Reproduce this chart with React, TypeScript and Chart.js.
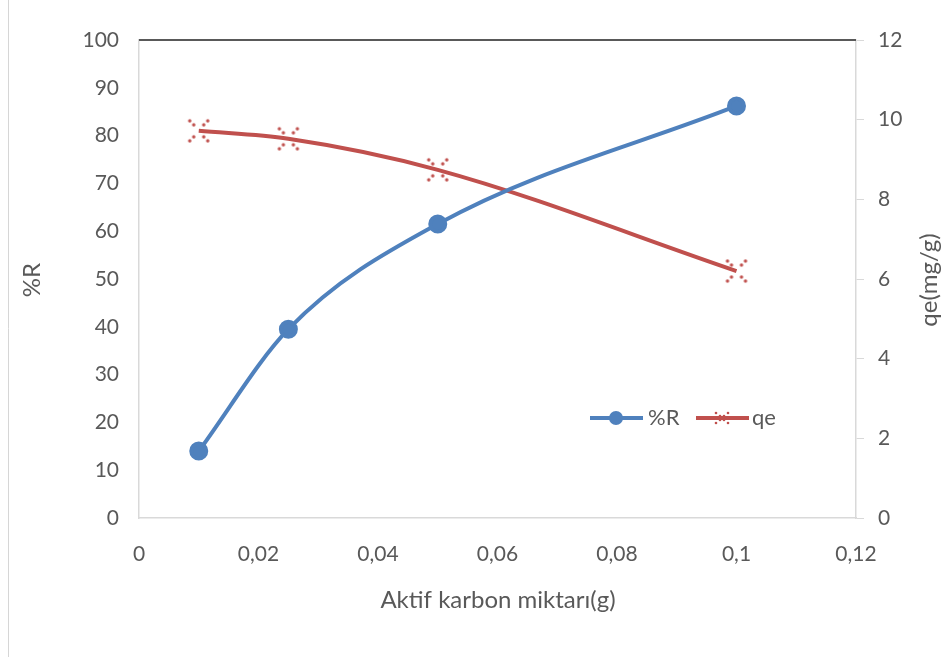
import { useEffect, useRef } from "react";
import { Chart, registerables } from "chart.js";

Chart.register(...registerables);

// Amount of activated carbon (g)
const carbonAmounts = [0.01, 0.025, 0.05, 0.1];
// Removal percentage %R
const removalPercent = [14.0, 39.5, 61.5, 86.2];
// Adsorption capacity qe (mg/g)
const adsorptionCapacity = [9.72, 9.52, 8.74, 6.2];

const seriesLabels = ["%R", "qe"];
const xTitle = "Aktif karbon miktarı(g)";
const leftTitle = "%R";
const rightTitle = "qe(mg/g)";

const BLUE = "#4f81bd";
const RED = "#c0504d";
const TEXT = "#595959";
const AXIS = "#d9d9d9";
const FONT = "Lato, 'Open Sans', sans-serif";

const crossDots = [
  [-9, -10], [-5, -6], [5, -6], [9, -10],
  [-5, 6], [-9, 10], [5, 6], [9, 10],
];
const smallCrossDots = [
  [-6, -5], [-2, -2], [2, -2], [6, -5],
  [-2, 2], [-6, 5], [2, 2], [6, 5],
];

function drawDots(g: CanvasRenderingContext2D, cx: number, cy: number, dots: number[][], r: number) {
  g.fillStyle = RED;
  for (const [dx, dy] of dots) {
    g.beginPath();
    g.arc(cx + dx, cy + dy, r, 0, Math.PI * 2);
    g.fill();
  }
}

function makeCrossMarker(): HTMLCanvasElement {
  const c = document.createElement("canvas");
  c.width = 26;
  c.height = 28;
  const g = c.getContext("2d")!;
  drawDots(g, 13, 14, crossDots, 1.7);
  return c;
}

const fmtX = (v: number) =>
  Number(v.toFixed(2)).toString().replace(".", ",");

const decorPlugin = {
  id: "decor",
  beforeDraw(chart: any) {
    const { ctx, width, height } = chart;
    ctx.save();
    ctx.fillStyle = "#ffffff";
    ctx.fillRect(0, 0, width, height);
    ctx.strokeStyle = "#d6d6d6";
    ctx.lineWidth = 1;
    ctx.beginPath();
    ctx.moveTo(8.5, 0);
    ctx.lineTo(8.5, height);
    ctx.stroke();
    ctx.restore();
  },
  afterDraw(chart: any) {
    const { ctx, chartArea } = chart;
    ctx.save();
    // dark top border of the plot area
    ctx.strokeStyle = "#595959";
    ctx.lineWidth = 2;
    ctx.beginPath();
    ctx.moveTo(chartArea.left, chartArea.top);
    ctx.lineTo(chartArea.right, chartArea.top);
    ctx.stroke();

    // axis titles
    ctx.fillStyle = TEXT;
    ctx.font = `24px ${FONT}`;
    ctx.textAlign = "center";
    ctx.textBaseline = "middle";
    ctx.fillText(xTitle, 498, 600);
    ctx.save();
    ctx.translate(32, 280);
    ctx.rotate(-Math.PI / 2);
    ctx.fillText(leftTitle, 0, 0);
    ctx.restore();
    ctx.save();
    ctx.translate(929, 280);
    ctx.rotate(-Math.PI / 2);
    ctx.fillText(rightTitle, 0, 0);
    ctx.restore();

    // legend inside the plot
    const ly = 418;
    ctx.lineWidth = 4;
    ctx.strokeStyle = BLUE;
    ctx.beginPath();
    ctx.moveTo(590, ly);
    ctx.lineTo(643, ly);
    ctx.stroke();
    ctx.fillStyle = BLUE;
    ctx.beginPath();
    ctx.arc(616, ly, 7, 0, Math.PI * 2);
    ctx.fill();
    ctx.strokeStyle = RED;
    ctx.beginPath();
    ctx.moveTo(696, ly);
    ctx.lineTo(749, ly);
    ctx.stroke();
    drawDots(ctx, 722, ly, smallCrossDots, 1.3);
    ctx.fillStyle = TEXT;
    ctx.font = `22px ${FONT}`;
    ctx.textAlign = "left";
    ctx.fillText(seriesLabels[0], 648, ly);
    ctx.fillText(seriesLabels[1], 752, ly);
    ctx.restore();
  },
};

export default function App() {
  const ref = useRef<HTMLCanvasElement | null>(null);

  useEffect(() => {
    document.body.style.margin = "0";
    const canvas = ref.current;
    if (!canvas) return;
    const marker = makeCrossMarker();
    const tickFont = { family: FONT, size: 21 };

    const chart = new Chart(canvas, {
      type: "line",
      data: {
        datasets: [
          {
            label: seriesLabels[0],
            data: carbonAmounts.map((x, i) => ({ x, y: removalPercent[i] })),
            yAxisID: "yLeft",
            borderColor: BLUE,
            backgroundColor: BLUE,
            borderWidth: 4,
            pointRadius: 7.5,
            pointStyle: "circle",
            tension: 0.4,
            cubicInterpolationMode: "monotone",
          },
          {
            label: seriesLabels[1],
            data: carbonAmounts.map((x, i) => ({ x, y: adsorptionCapacity[i] })),
            yAxisID: "yRight",
            borderColor: RED,
            backgroundColor: RED,
            borderWidth: 4,
            pointStyle: marker,
            pointRadius: 10,
            tension: 0.4,
            cubicInterpolationMode: "monotone",
          },
        ],
      },
      options: {
        responsive: false,
        animation: false,
        layout: { padding: { top: 40, left: 0, right: 0, bottom: 0 } },
        plugins: {
          legend: { display: false },
          tooltip: { enabled: false },
        },
        scales: {
          x: {
            type: "linear",
            min: 0,
            max: 0.12,
            grid: { display: false, drawTicks: false },
            border: { color: AXIS, width: 1.5 },
            ticks: {
              stepSize: 0.02,
              color: TEXT,
              font: tickFont,
              padding: 24,
              callback: (v: any) => fmtX(Number(v)),
            },
            afterFit: (s: any) => {
              s.height = 139;
            },
          },
          yLeft: {
            type: "linear",
            position: "left",
            min: 0,
            max: 100,
            grid: { display: false, drawTicks: false },
            border: { color: AXIS, width: 1.5 },
            ticks: { stepSize: 10, color: TEXT, font: tickFont, padding: 20 },
            afterFit: (s: any) => {
              s.width = 139;
            },
          },
          yRight: {
            type: "linear",
            position: "right",
            min: 0,
            max: 12,
            grid: {
              drawOnChartArea: false,
              drawTicks: true,
              tickLength: 8,
              color: AXIS,
            },
            border: { color: AXIS, width: 1.5 },
            ticks: { stepSize: 2, color: TEXT, font: tickFont, padding: 14 },
            afterFit: (s: any) => {
              s.width = 90;
            },
          },
        },
      },
      plugins: [decorPlugin],
    });

    return () => chart.destroy();
  }, []);

  return <canvas ref={ref} width={946} height={657} style={{ display: "block" }} />;
}
